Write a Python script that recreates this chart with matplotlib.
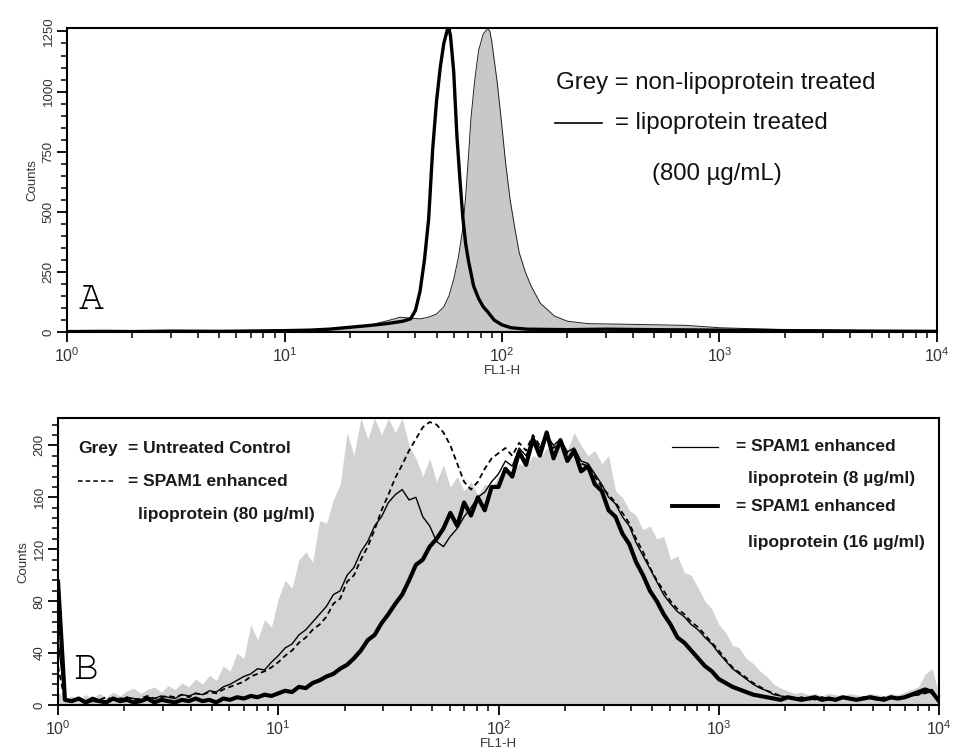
import numpy as np
import matplotlib
matplotlib.use("Agg")
import matplotlib.pyplot as plt
from matplotlib import font_manager
from matplotlib.ticker import LogLocator, MultipleLocator, NullFormatter
from matplotlib.lines import Line2D

plt.rcParams['font.family'] = ['Liberation Sans Narrow', 'Liberation Sans', 'DejaVu Sans']

# ---- panel A : FL1-H histograms ----
fl1_grey_a = [1, 2, 5, 10, 15, 20, 25, 30, 34, 38, 42, 46, 50, 54, 57, 60, 63, 66, 68, 70,
              72, 75, 78, 82, 86, 88, 90, 95, 99, 104, 109, 114, 120, 128, 136, 150, 174,
              200, 250, 400, 700, 1000, 2000, 5000, 10000]
cnt_grey_a = [1, 2, 3, 5, 10, 18, 30, 48, 62, 58, 55, 62, 75, 105, 150, 220, 310, 430, 560, 720,
              890, 1050, 1170, 1240, 1262, 1250, 1200, 1040, 890, 700, 550, 443, 330, 250, 192, 120, 67,
              45, 35, 32, 28, 18, 10, 6, 3]

fl1_treat_a = [1, 1.5, 2, 3, 5, 8, 10, 13, 16, 20, 25, 30, 35, 38, 40, 42, 44, 46, 48, 50,
               52, 54, 56, 57, 58, 60, 62, 64, 66, 68, 70, 74, 78, 82, 86, 92, 100, 110,
               130, 200, 300, 500, 1000, 2000, 5000, 10000]
cnt_treat_a = [2, 3, 2, 4, 3, 5, 6, 8, 12, 20, 28, 36, 45, 55, 90, 170, 300, 470, 760, 960,
               1100, 1200, 1255, 1265, 1230, 1080, 820, 640, 480, 370, 300, 192, 140, 105, 84, 50, 30, 18,
               12, 10, 12, 10, 8, 6, 4, 3]

# ---- panel B : 1024 channel histograms, every 8th channel ----
channels_b = np.arange(0, 1025, 8)

cnt_control_b = [10, 5, 7, 4, 8, 5, 9, 6, 10, 7, 11, 13, 9, 12, 14, 10,
                 15, 12, 17, 14, 20, 16, 23, 19, 30, 26, 40, 36, 62, 50, 66, 60,
                 82, 96, 90, 112, 118, 110, 142, 140, 158, 170, 210, 192, 221, 205, 221, 208,
                 221, 210, 221, 200, 190, 176, 190, 172, 185, 168, 176, 165, 172, 162, 170, 168,
                 176, 180, 178, 186, 184, 192, 190, 198, 195, 205, 196, 210, 200, 192, 196, 186,
                 192, 165, 160, 150, 146, 135, 138, 128, 130, 112, 115, 102, 100, 90, 80, 74,
                 62, 56, 46, 44, 36, 32, 26, 22, 16, 13, 11, 9, 10, 8, 9, 7,
                 9, 8, 7, 9, 8, 7, 9, 8, 7, 9, 8, 10, 12, 14, 24, 28,
                 8]

cnt_8ug_b = [50, 4, 3, 5, 3, 6, 4, 3, 5, 4, 6, 5, 4, 6, 5, 7,
             6, 5, 8, 7, 9, 8, 11, 10, 14, 16, 19, 22, 24, 28, 27, 33,
             38, 44, 47, 54, 58, 64, 70, 76, 85, 88, 100, 106, 118, 126, 138, 145,
             156, 162, 166, 158, 160, 145, 138, 126, 122, 130, 136, 145, 152, 160, 164, 172,
             178, 188, 184, 198, 192, 206, 198, 208, 200, 205, 195, 198, 188, 186, 178, 170,
             160, 155, 145, 138, 125, 115, 105, 95, 85, 78, 72, 68, 62, 58, 52, 47,
             40, 34, 28, 24, 20, 16, 13, 11, 8, 7, 6, 5, 6, 5, 4, 6,
             5, 4, 6, 5, 4, 5, 6, 4, 5, 6, 5, 6, 7, 8, 10, 12,
             3]

cnt_80ug_b = [30, 3, 4, 5, 3, 5, 4, 6, 4, 5, 6, 4, 5, 7, 5, 6,
              7, 6, 8, 6, 9, 8, 10, 9, 12, 14, 16, 18, 22, 24, 26, 29,
              33, 38, 42, 48, 52, 58, 62, 68, 78, 82, 95, 100, 112, 122, 135, 150,
              162, 175, 185, 196, 205, 214, 218, 216, 210, 200, 186, 172, 166, 172, 182, 190,
              194, 198, 192, 202, 196, 208, 200, 206, 198, 202, 194, 196, 186, 184, 176, 168,
              162, 156, 148, 140, 128, 118, 106, 96, 88, 80, 74, 70, 64, 60, 54, 48,
              42, 35, 29, 25, 21, 17, 14, 11, 9, 7, 6, 5, 6, 4, 5, 6,
              4, 5, 6, 5, 4, 6, 5, 4, 6, 5, 6, 5, 7, 8, 9, 11,
              3]

cnt_16ug_b = [95, 4, 3, 5, 2, 4, 3, 2, 5, 3, 4, 2, 3, 5, 2, 4,
              3, 2, 4, 3, 5, 3, 4, 2, 5, 4, 6, 5, 7, 6, 8, 7,
              9, 11, 10, 14, 13, 17, 19, 22, 24, 28, 31, 36, 42, 50, 54, 63,
              70, 78, 85, 96, 108, 112, 122, 128, 136, 148, 138, 156, 146, 160, 150, 168,
              168, 182, 176, 195, 185, 205, 192, 210, 190, 204, 188, 196, 180, 184, 170, 165,
              150, 145, 132, 124, 110, 100, 88, 80, 70, 62, 52, 48, 42, 36, 30, 26,
              20, 17, 14, 12, 10, 8, 7, 6, 5, 4, 6, 5, 4, 5, 6, 4,
              5, 4, 6, 5, 4, 5, 6, 5, 4, 6, 5, 6, 8, 10, 12, 10,
              3]

grey_a = '#c8c8c8'
grey_b = '#d2d2d2'


def pick_font(names):
    for name in names:
        try:
            font_manager.findfont(font_manager.FontProperties(family=name),
                                  fallback_to_default=False)
            return name
        except ValueError:
            continue
    return 'serif'


# typewriter style letter for the panel labels
letter_font = pick_font(['Nimbus Mono PS', 'FreeMono', 'cmtt10', 'DejaVu Serif'])


def style_axis(ax, ymax, ymajor, yminor):
    ax.set_xscale('log')
    ax.set_xlim(1, 10000)
    ax.set_ylim(0, ymax)
    ax.xaxis.set_major_locator(LogLocator(base=10, numticks=10))
    ax.xaxis.set_minor_locator(LogLocator(base=10, subs=np.arange(2, 10), numticks=20))
    ax.xaxis.set_minor_formatter(NullFormatter())
    ax.yaxis.set_major_locator(MultipleLocator(ymajor))
    ax.yaxis.set_minor_locator(MultipleLocator(yminor))
    ax.tick_params(which='major', direction='out', length=7, width=1.3, labelsize=11.5,
                   top=False, right=False, labelcolor='#333333')
    ax.tick_params(which='minor', direction='out', length=4, width=1.1, top=False, right=False)
    ax.tick_params(axis='y', labelsize=9.5, pad=2)
    for lab in ax.get_yticklabels():
        lab.set_rotation(90)
        lab.set_va('center')
    for sp in ax.spines.values():
        sp.set_linewidth(1.5)
    ax.set_xlabel('FL1-H', fontsize=9.5, labelpad=0, color='#333333')
    ax.set_ylabel('Counts', fontsize=9.5, labelpad=3, color='#333333')


fig = plt.figure(figsize=(9.56, 7.53), dpi=100)
axA = fig.add_axes([0.0701, 0.559, 0.910, 0.404])
axB = fig.add_axes([0.0607, 0.0637, 0.9215, 0.381])

# panel A
axA.fill_between(fl1_grey_a, cnt_grey_a, 0, color=grey_a, lw=0)
axA.plot(fl1_grey_a, cnt_grey_a, color='#222222', lw=0.7)
axA.plot(fl1_treat_a, cnt_treat_a, color='black', lw=2.4)
style_axis(axA, 1265, 250, 50)
axA.text(0.013, 0.075, 'A', transform=axA.transAxes,
         fontproperties=font_manager.FontProperties(family=letter_font, size=30))
kwA = dict(transform=axA.transAxes, fontsize=17.3, va='center', color='#111111')
axA.text(0.562, 0.818, 'Grey = non-lipoprotein treated', **kwA)
axA.add_line(Line2D([0.561, 0.615], [0.686, 0.686], transform=axA.transAxes, color='black', lw=1.2))
axA.text(0.630, 0.686, '= lipoprotein treated', **kwA)
axA.text(0.673, 0.52, '(800 \u00b5g/mL)', **kwA)

# panel B
fl1_b = 10 ** (channels_b / 256)
axB.fill_between(fl1_b, np.minimum(cnt_control_b, 225), 0, color=grey_b, lw=0)
axB.plot(fl1_b, cnt_8ug_b, color='black', lw=1.0)
axB.plot(fl1_b, cnt_80ug_b, color='black', lw=1.3, ls=(0, (3, 2)))
axB.plot(fl1_b, cnt_16ug_b, color='black', lw=3.0)
style_axis(axB, 221, 40, 8)
axB.text(0.017, 0.09, 'B', transform=axB.transAxes,
         fontproperties=font_manager.FontProperties(family=letter_font, size=30))
kw = dict(transform=axB.transAxes, fontsize=12.5, fontweight='bold', va='center', color='#1a1a1a')
axB.text(0.023, 0.895, 'Grey', **kw)
axB.text(0.079, 0.895, '= Untreated Control', **kw)
axB.add_line(Line2D([0.023, 0.065], [0.78, 0.78], transform=axB.transAxes, color='black',
                    lw=1.1, ls=(0, (3, 2))))
axB.text(0.079, 0.78, '= SPAM1 enhanced', **kw)
axB.text(0.091, 0.665, 'lipoprotein (80 \u00b5g/ml)', **kw)
axB.add_line(Line2D([0.697, 0.749], [0.9, 0.9], transform=axB.transAxes, color='black', lw=0.9))
axB.text(0.77, 0.9, '= SPAM1 enhanced', **kw)
axB.text(0.783, 0.79, 'lipoprotein (8 \u00b5g/ml)', **kw)
axB.add_line(Line2D([0.697, 0.749], [0.693, 0.693], transform=axB.transAxes, color='black', lw=2.8))
axB.text(0.77, 0.693, '= SPAM1 enhanced', **kw)
axB.text(0.783, 0.567, 'lipoprotein (16 \u00b5g/ml)', **kw)

fig.savefig('out.png', dpi=100)
